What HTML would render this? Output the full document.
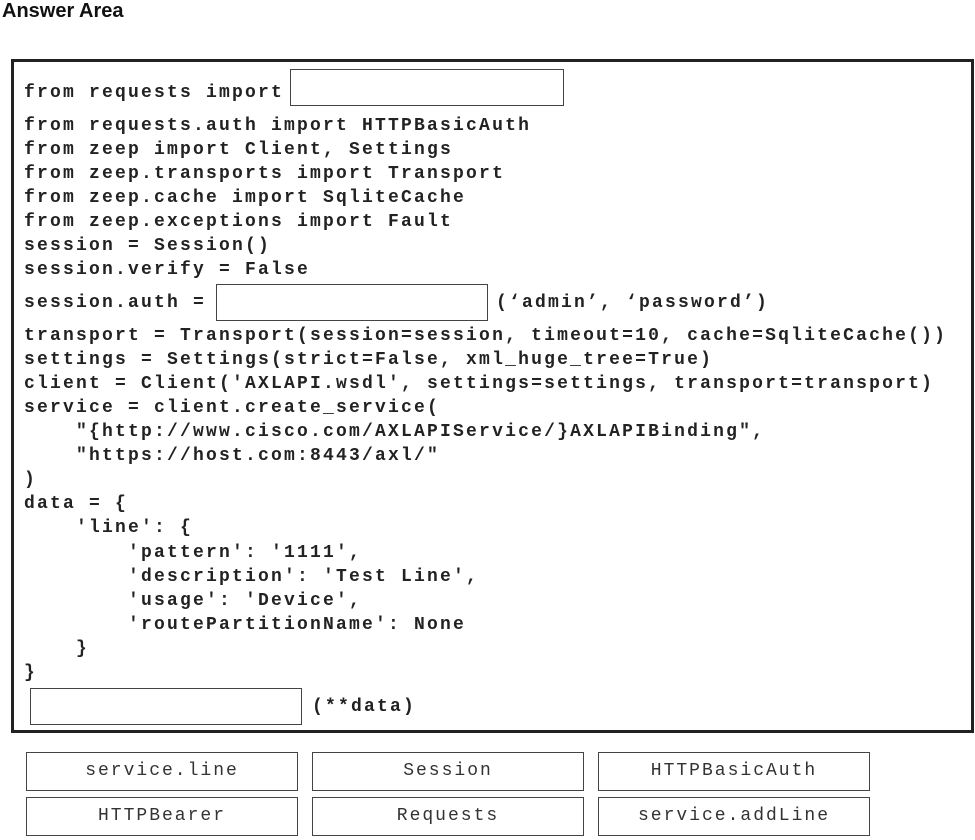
<!DOCTYPE html>
<html><head><style>
body{margin:0;width:975px;height:838px;background:#fff;position:relative;overflow:hidden;font-family:"Liberation Mono",monospace;}
.t{position:absolute;left:2px;top:0;font:bold 20px "Liberation Sans",sans-serif;color:#111;}
.main{position:absolute;left:11px;top:59px;width:957px;height:668px;border:3px solid #222;}
.c{position:absolute;left:0;top:2px;width:975px;height:838px;}
.l{position:absolute;left:24px;font-size:18px;letter-spacing:2.2px;color:#222;white-space:pre;font-weight:bold;line-height:20px;}
.box{position:absolute;border:1.5px solid #444;background:#fff;}
.b{position:absolute;width:270px;height:37px;border:1.5px solid #444;text-align:center;line-height:37px;font-size:18px;letter-spacing:2px;color:#333;}
</style></head><body>
<div class="t">Answer Area</div>
<div class="main"></div>
<div class="box" style="left:290px;top:69px;width:272px;height:35px"></div>
<div class="box" style="left:216px;top:284px;width:270px;height:35px"></div>
<div class="box" style="left:30px;top:688px;width:270px;height:35px"></div>
<div class="c">
<div class="l" style="top:81px">from requests import</div>
<div class="l" style="top:114px">from requests.auth import HTTPBasicAuth</div>
<div class="l" style="top:138px">from zeep import Client, Settings</div>
<div class="l" style="top:162px">from zeep.transports import Transport</div>
<div class="l" style="top:186px">from zeep.cache import SqliteCache</div>
<div class="l" style="top:210px">from zeep.exceptions import Fault</div>
<div class="l" style="top:234px">session = Session()</div>
<div class="l" style="top:258px">session.verify = False</div>
<div class="l" style="top:291px">session.auth =</div>
<div class="l" style="top:291px;left:496px">(‘admin’, ‘password’)</div>
<div class="l" style="top:324px">transport = Transport(session=session, timeout=10, cache=SqliteCache())</div>
<div class="l" style="top:348px">settings = Settings(strict=False, xml_huge_tree=True)</div>
<div class="l" style="top:372px">client = Client('AXLAPI.wsdl', settings=settings, transport=transport)</div>
<div class="l" style="top:396px">service = client.create_service(</div>
<div class="l" style="top:420px">    "{http://www.cisco.com/AXLAPIService/}AXLAPIBinding",</div>
<div class="l" style="top:444px">    "https://host.com:8443/axl/"</div>
<div class="l" style="top:468px">)</div>
<div class="l" style="top:492px">data = {</div>
<div class="l" style="top:516px">    'line': {</div>
<div class="l" style="top:541px">        'pattern': '1111',</div>
<div class="l" style="top:565px">        'description': 'Test Line',</div>
<div class="l" style="top:589px">        'usage': 'Device',</div>
<div class="l" style="top:613px">        'routePartitionName': None</div>
<div class="l" style="top:637px">    }</div>
<div class="l" style="top:661px">}</div>
<div class="l" style="top:695px;left:312px">(**data)</div>
</div>
<div class="b" style="left:26px;top:752px">service.line</div>
<div class="b" style="left:312px;top:752px">Session</div>
<div class="b" style="left:598px;top:752px">HTTPBasicAuth</div>
<div class="b" style="left:26px;top:797px">HTTPBearer</div>
<div class="b" style="left:312px;top:797px">Requests</div>
<div class="b" style="left:598px;top:797px">service.addLine</div>
</body></html>
